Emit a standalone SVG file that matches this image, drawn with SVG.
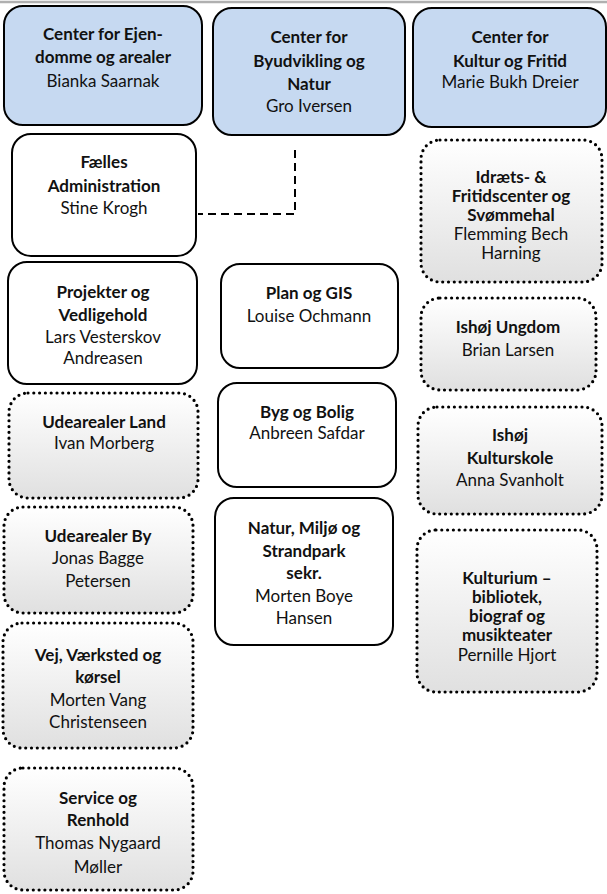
<svg xmlns="http://www.w3.org/2000/svg" width="607" height="894" viewBox="0 0 607 894">
<style>
text{font-family:Lato,"Open Sans","Liberation Sans",sans-serif;font-size:17px;fill:#111;text-anchor:middle}
.b{font-weight:bold}
.blue{fill:#c6d9f1;stroke:#000;stroke-width:2}
.solid{fill:#fff;stroke:#000;stroke-width:2}
.dot{fill:url(#g);stroke:#000;stroke-width:3.2;stroke-linecap:round;stroke-dasharray:0 5.8}
.conn{fill:none;stroke:#000;stroke-width:2;stroke-dasharray:8 5}
</style>
<defs>
<linearGradient id="g" x1="0" y1="0" x2="0" y2="1">
<stop offset="0" stop-color="#ffffff"/>
<stop offset="1" stop-color="#e0e0e0"/>
</linearGradient>
</defs>
<rect width="607" height="894" fill="#fff"/>
<line x1="0" y1="2" x2="607" y2="2" stroke="#b0b0b0" stroke-width="2.5"/>
<g id="connectors">
<polyline class="conn" points="295,150 295,214 198,214"/>
</g>
<g id="center-ejendomme">
<rect class="blue" x="4" y="6" width="198" height="119" rx="19"/>
<text class="b" x="103" y="40">Center for Ejen-</text>
<text class="b" x="103" y="63">domme og arealer</text>
<text x="103" y="87">Bianka Saarnak</text>
</g>
<g id="center-byudvikling">
<rect class="blue" x="213" y="8" width="192" height="127" rx="19"/>
<text class="b" x="309" y="43">Center for</text>
<text class="b" x="309" y="67">Byudvikling og</text>
<text class="b" x="309" y="90">Natur</text>
<text x="309" y="112">Gro Iversen</text>
</g>
<g id="center-kultur">
<rect class="blue" x="413" y="8" width="193" height="119" rx="19"/>
<text class="b" x="510" y="43">Center for</text>
<text class="b" x="510" y="67">Kultur og Fritid</text>
<text x="510" y="88">Marie Bukh Dreier</text>
</g>
<g id="faelles-administration">
<rect class="solid" x="12" y="134" width="184" height="122" rx="19"/>
<text class="b" x="104" y="168">Fælles</text>
<text class="b" x="104" y="192">Administration</text>
<text x="104" y="214">Stine Krogh</text>
</g>
<g id="projekter">
<rect class="solid" x="8" y="262" width="189" height="122" rx="19"/>
<text class="b" x="103" y="298">Projekter og</text>
<text class="b" x="103" y="321">Vedligehold</text>
<text x="103" y="343">Lars Vesterskov</text>
<text x="103" y="364">Andreasen</text>
</g>
<g id="udearealer-land">
<rect class="dot" x="9" y="393" width="189" height="105" rx="19"/>
<text class="b" x="104" y="428">Udearealer Land</text>
<text x="104" y="449">Ivan Morberg</text>
</g>
<g id="udearealer-by">
<rect class="dot" x="4" y="507" width="189" height="106" rx="19"/>
<text class="b" x="98" y="542">Udearealer By</text>
<text x="98" y="564">Jonas Bagge</text>
<text x="98" y="587">Petersen</text>
</g>
<g id="vej">
<rect class="dot" x="3" y="623" width="190" height="125" rx="19"/>
<text class="b" x="98" y="661">Vej, Værksted og</text>
<text class="b" x="98" y="683">kørsel</text>
<text x="98" y="706">Morten Vang</text>
<text x="98" y="728">Christenseen</text>
</g>
<g id="service">
<rect class="dot" x="4" y="768" width="189" height="122" rx="19"/>
<text class="b" x="98" y="804">Service og</text>
<text class="b" x="98" y="826">Renhold</text>
<text x="98" y="849">Thomas Nygaard</text>
<text x="98" y="873">Møller</text>
</g>
<g id="plan-gis">
<rect class="solid" x="221" y="264" width="177" height="104" rx="19"/>
<text class="b" x="309" y="299">Plan og GIS</text>
<text x="309" y="322">Louise Ochmann</text>
</g>
<g id="byg-bolig">
<rect class="solid" x="218" y="383" width="178" height="104" rx="19"/>
<text class="b" x="307" y="418">Byg og Bolig</text>
<text x="307" y="439">Anbreen Safdar</text>
</g>
<g id="natur-miljoe">
<rect class="solid" x="215" y="498" width="178" height="147" rx="19"/>
<text class="b" x="304" y="534">Natur, Miljø og</text>
<text class="b" x="304" y="557">Strandpark</text>
<text class="b" x="304" y="579">sekr.</text>
<text x="304" y="602">Morten Boye</text>
<text x="304" y="624">Hansen</text>
</g>
<g id="idraets">
<rect class="dot" x="421" y="140" width="181" height="142" rx="19"/>
<text class="b" x="511" y="183">Idræts- &amp;</text>
<text class="b" x="511" y="202">Fritidscenter og</text>
<text class="b" x="511" y="221">Svømmehal</text>
<text x="511" y="240">Flemming Bech</text>
<text x="511" y="259">Harning</text>
</g>
<g id="ishoej-ungdom">
<rect class="dot" x="421" y="298" width="175" height="92" rx="19"/>
<text class="b" x="508" y="333">Ishøj Ungdom</text>
<text x="508" y="356">Brian Larsen</text>
</g>
<g id="ishoej-kulturskole">
<rect class="dot" x="418" y="407" width="184" height="107" rx="19"/>
<text class="b" x="510" y="441">Ishøj</text>
<text class="b" x="510" y="464">Kulturskole</text>
<text x="510" y="486">Anna Svanholt</text>
</g>
<g id="kulturium">
<rect class="dot" x="417" y="530" width="180" height="162" rx="19"/>
<text class="b" x="507" y="584">Kulturium –</text>
<text class="b" x="507" y="603">bibliotek,</text>
<text class="b" x="507" y="622">biograf og</text>
<text class="b" x="507" y="641">musikteater</text>
<text x="507" y="661">Pernille Hjort</text>
</g>
</svg>
